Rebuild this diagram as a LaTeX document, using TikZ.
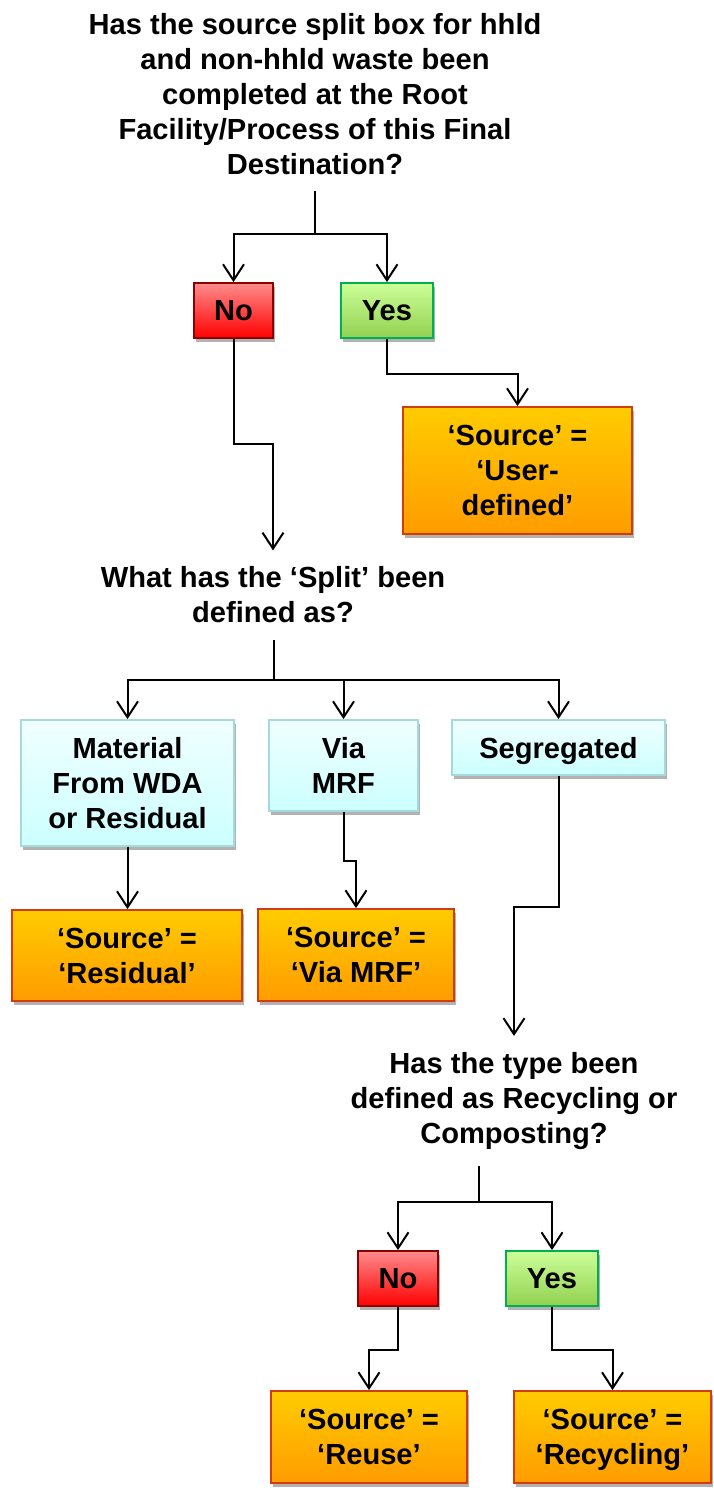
\documentclass[tikz,border=0pt]{standalone}
\usepackage{fontspec}
\setmainfont{Liberation Sans}
\usetikzlibrary{arrows.meta,shadows}

\definecolor{noTop}{HTML}{FF8C8C}
\definecolor{noBot}{HTML}{FF0000}
\definecolor{noLine}{HTML}{8B0000}
\definecolor{yesTop}{HTML}{CCFF99}
\definecolor{yesBot}{HTML}{92D050}
\definecolor{yesLine}{HTML}{00B050}
\definecolor{srcTop}{HTML}{FFCC00}
\definecolor{srcBot}{HTML}{FF9C00}
\definecolor{srcLine}{HTML}{D23C0A}
\definecolor{splTop}{HTML}{F0FFFF}
\definecolor{splBot}{HTML}{CCFFFF}
\definecolor{splLine}{HTML}{A6DADA}

\tikzset{
	txt/.style={font=\bfseries\fontsize{14.55}{17.5}\selectfont, align=center},
	question/.style={txt, inner xsep=0pt, inner ysep=8pt},
	box/.style={txt, draw, line width=0.9pt, inner sep=0pt, text depth=0pt,
		drop shadow={shadow xshift=1.2pt, shadow yshift=-2pt, opacity=0.3, fill=black}},
	nobox/.style={box, draw=noLine, top color=noTop, bottom color=noBot},
	yesbox/.style={box, draw=yesLine, top color=yesTop, bottom color=yesBot},
	srcbox/.style={box, draw=srcLine, top color=srcTop, bottom color=srcBot},
	splitbox/.style={box, draw=splLine, top color=splTop, bottom color=splBot},
	ln/.style={line width=1pt},
	arr/.style={ln, -{Straight Barb[length=8pt, width=10.5pt, line width=1pt]}}
}

\begin{document}
\begin{tikzpicture}[x=0.5pt, y=-0.5pt]

	\useasboundingbox (0,0) rectangle (713,1492);

	% first question
	\node[question] (q1) at (315,94) {Has the source split box for hhld\\and non-hhld waste been\\completed at the Root\\Facility/Process of this Final\\Destination?};
	\node[nobox, minimum width=39.5pt, minimum height=27.5pt] (no1) at (233.5,310.5) {No};
	\node[yesbox, minimum width=46pt, minimum height=27.5pt] (yes1) at (387,310.5) {Yes};
	\node[srcbox, minimum width=114.5pt, minimum height=63.5pt] (ud) at (517.5,470.5) {‘Source’ =\\‘User-\\defined’};

	\coordinate (j1) at (315,234);
	\draw[ln] (q1.south) -- (j1);
	\draw[arr] (j1) -| (no1.north);
	\draw[arr] (j1) -| (yes1.north);
	\draw[arr] (yes1.south) -- ++(0,35) -| (ud.north);

	% split
	\node[question] (q2) at (273,595) {What has the ‘Split’ been\\defined as?};
	\draw[arr] (no1.south) -- ++(0,105) -| (q2.north);

	\node[splitbox, minimum width=106.5pt, minimum height=63pt] (mat) at (127.5,783) {Material\\From WDA\\or Residual};
	\node[splitbox, minimum width=74.5pt, minimum height=45.5pt] (via) at (343.5,765.5) {Via\\MRF};
	\node[splitbox, minimum width=106.5pt, minimum height=27.5pt] (seg) at (558.5,747.5) {Segregated};

	\coordinate (j2) at (274,680);
	\draw[ln] (j2 |- q2.south) -- (j2);
	\draw[arr] (j2) -| (mat.north);
	\draw[arr] (j2) -| (via.north);
	\draw[arr] (j2) -| (seg.north);

	\node[srcbox, minimum width=115pt, minimum height=45.5pt] (res) at (127,955.5) {‘Source’ =\\‘Residual’};
	\node[srcbox, minimum width=98pt, minimum height=46pt] (vmrf) at (356,955) {‘Source’ =\\‘Via MRF’};

	\draw[arr] (mat.south) -- (mat.south |- res.north);
	\draw[arr] (via.south) -- ++(0,49) -| (vmrf.north);

	% type
	\node[question] (q3) at (514,1101) {Has the type been\\defined as Recycling or\\Composting?};
	\draw[arr] (seg.south) -- ++(0,131) -| (q3.north);

	\node[nobox, minimum width=40pt, minimum height=27.5pt] (no2) at (398,1278.5) {No};
	\node[yesbox, minimum width=46pt, minimum height=27.5pt] (yes2) at (552,1278.5) {Yes};

	\coordinate (j3) at (479,1202);
	\draw[ln] (j3 |- q3.south) -- (j3);
	\draw[arr] (j3) -| (no2.north);
	\draw[arr] (j3) -| (yes2.north);

	\node[srcbox, minimum width=98pt, minimum height=46pt] (reuse) at (369,1437) {‘Source’ =\\‘Reuse’};
	\node[srcbox, minimum width=98.5pt, minimum height=46pt] (recyc) at (612.5,1437) {‘Source’ =\\‘Recycling’};

	\draw[arr] (no2.south) -- ++(0,43) -| (reuse.north);
	\draw[arr] (yes2.south) -- ++(0,43) -| (recyc.north);

\end{tikzpicture}
\end{document}
